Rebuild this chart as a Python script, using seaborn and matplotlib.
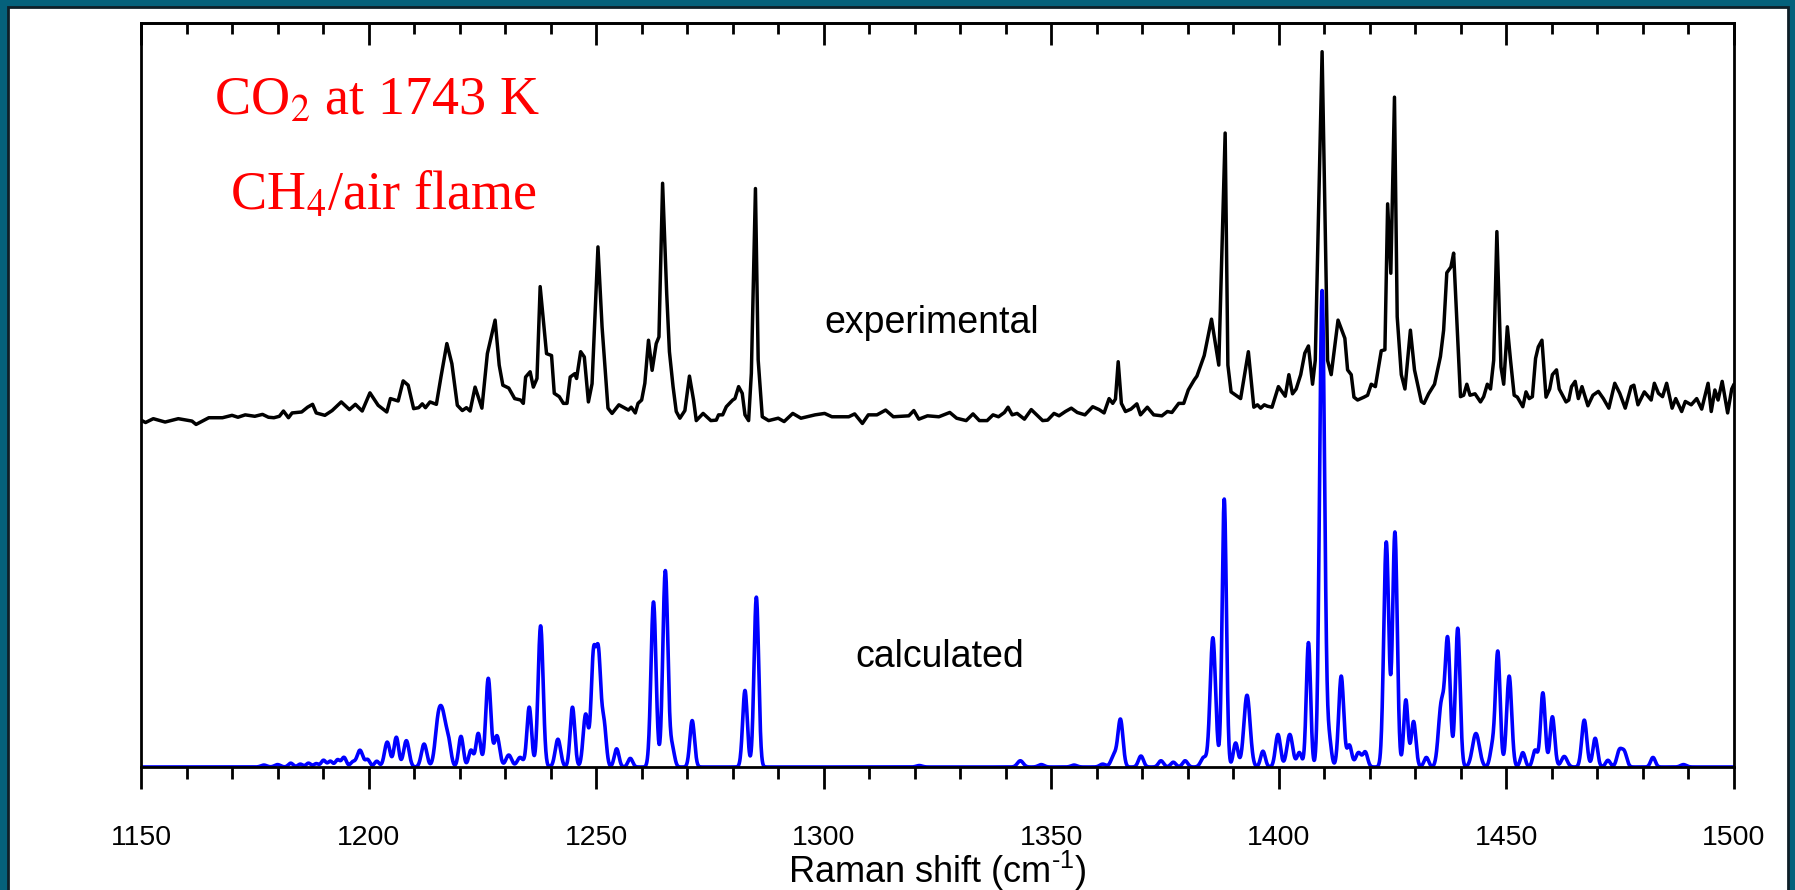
import numpy as np
import matplotlib
matplotlib.use("Agg")
import matplotlib.pyplot as plt
from matplotlib.patches import Rectangle
from matplotlib.ticker import MultipleLocator
import seaborn as sns

# experimental trace (vertices, offset included)
exp_shift = [
    1150.0, 1151.0, 1152.7, 1155.3, 1158.2, 1161.2, 1162.1, 1164.9, 1167.9, 1170.0,
    1171.3, 1172.9, 1175.0, 1176.7, 1178.0, 1179.2, 1180.4, 1181.3, 1182.4, 1183.2,
    1185.3, 1186.6, 1187.7, 1188.5, 1190.4, 1192.0, 1194.0, 1195.8, 1197.1, 1198.6,
    1200.3, 1202.1, 1204.0, 1204.8, 1206.5, 1207.6, 1208.7, 1209.9, 1211.0, 1211.8,
    1212.5, 1213.5, 1214.9, 1215.9, 1217.2, 1218.3, 1219.5, 1220.6, 1221.5, 1222.3,
    1223.4, 1224.9, 1226.1, 1227.8, 1228.7, 1229.5, 1230.8, 1232.1, 1233.4, 1234.0,
    1234.5, 1235.5, 1236.2, 1237.0, 1237.7, 1239.1, 1240.2, 1240.8, 1241.9, 1242.8,
    1243.6, 1244.3, 1245.3, 1245.7, 1246.6, 1247.4, 1248.3, 1249.1, 1250.4, 1251.3,
    1252.6, 1253.5, 1255.0, 1257.1, 1257.7, 1258.6, 1259.2, 1260.0, 1260.7, 1261.5,
    1262.3, 1263.2, 1263.8, 1264.6, 1265.5, 1266.1, 1266.9, 1267.6, 1268.4, 1269.5,
    1270.5, 1271.4, 1272.0, 1273.5, 1275.2, 1276.4, 1276.9, 1277.8, 1278.6, 1280.0,
    1280.5, 1281.3, 1282.1, 1282.7, 1283.5, 1284.1, 1285.0, 1285.6, 1286.5, 1287.9,
    1290.0, 1291.3, 1293.2, 1295.0, 1298.1, 1300.2, 1301.8, 1305.5, 1306.8, 1308.5,
    1309.8, 1311.7, 1313.6, 1315.3, 1318.7, 1319.8, 1320.9, 1322.8, 1325.3, 1327.7,
    1329.2, 1331.3, 1332.8, 1334.2, 1335.9, 1337.2, 1338.4, 1339.7, 1340.5, 1341.4,
    1342.5, 1344.1, 1345.6, 1348.1, 1349.2, 1350.6, 1351.7, 1353.1, 1354.4, 1355.7,
    1357.4, 1359.1, 1360.5, 1361.6, 1362.7, 1363.5, 1364.1, 1364.7, 1365.4, 1366.3,
    1367.5, 1368.8, 1369.6, 1371.1, 1372.5, 1374.3, 1375.5, 1376.5, 1378.0, 1379.1,
    1380.1, 1381.4, 1382.0, 1383.6, 1385.2, 1386.8, 1388.2, 1388.8, 1389.5, 1391.6,
    1393.3, 1394.5, 1395.3, 1396.0, 1396.8, 1397.5, 1398.5, 1399.9, 1401.4, 1402.2,
    1403.0, 1403.8, 1404.8, 1405.7, 1406.5, 1407.4, 1408.0, 1409.5, 1410.7, 1411.5,
    1413.0, 1414.5, 1415.1, 1415.9, 1416.5, 1417.3, 1418.0, 1418.7, 1419.5, 1420.3,
    1421.2, 1421.8, 1422.5, 1423.3, 1423.9, 1424.6, 1425.4, 1426.0, 1426.9, 1427.7,
    1428.9, 1429.8, 1431.3, 1431.9, 1432.9, 1434.2, 1435.5, 1436.2, 1436.9, 1437.8,
    1438.4, 1439.0, 1439.9, 1440.6, 1441.3, 1442.0, 1443.1, 1444.3, 1445.0, 1445.8,
    1446.5, 1447.2, 1447.9, 1448.8, 1449.4, 1450.2, 1450.9, 1451.7, 1452.4, 1453.6,
    1454.3, 1455.0, 1455.7, 1456.4, 1457.0, 1457.8, 1458.7, 1459.5, 1460.1, 1461.0,
    1461.6, 1463.1, 1463.7, 1464.3, 1465.1, 1465.8, 1466.6, 1467.9, 1469.0, 1470.2,
    1471.3, 1472.5, 1473.8, 1474.9, 1476.1, 1477.4, 1478.0, 1478.9, 1480.3, 1481.8,
    1482.5, 1483.4, 1484.3, 1485.2, 1486.4, 1487.2, 1488.5, 1489.3, 1490.6, 1491.8,
    1492.9, 1494.3, 1495.0, 1495.8, 1496.5, 1497.4, 1498.6, 1499.5, 1500.0,
]
exp_intensity = [
    0.725, 0.720, 0.728, 0.721, 0.728, 0.723, 0.716, 0.730, 0.730, 0.735,
    0.731, 0.736, 0.733, 0.737, 0.731, 0.730, 0.733, 0.744, 0.730, 0.740,
    0.742, 0.752, 0.758, 0.740, 0.735, 0.745, 0.763, 0.747, 0.758, 0.744,
    0.782, 0.756, 0.742, 0.770, 0.765, 0.807, 0.798, 0.749, 0.751, 0.759,
    0.751, 0.763, 0.758, 0.815, 0.885, 0.843, 0.756, 0.745, 0.751, 0.744,
    0.794, 0.750, 0.864, 0.934, 0.840, 0.798, 0.792, 0.770, 0.767, 0.760,
    0.815, 0.826, 0.794, 0.812, 1.004, 0.864, 0.860, 0.781, 0.774, 0.760,
    0.760, 0.815, 0.822, 0.812, 0.868, 0.857, 0.763, 0.801, 1.087, 0.920,
    0.750, 0.739, 0.757, 0.746, 0.752, 0.740, 0.760, 0.767, 0.802, 0.892,
    0.829, 0.885, 0.899, 1.220, 0.990, 0.868, 0.795, 0.743, 0.729, 0.745,
    0.817, 0.767, 0.724, 0.739, 0.724, 0.725, 0.736, 0.736, 0.753, 0.767,
    0.770, 0.795, 0.781, 0.736, 0.724, 0.823, 1.209, 0.851, 0.732, 0.724,
    0.729, 0.722, 0.739, 0.729, 0.736, 0.739, 0.732, 0.732, 0.738, 0.718,
    0.736, 0.736, 0.746, 0.732, 0.734, 0.745, 0.727, 0.734, 0.732, 0.741,
    0.729, 0.724, 0.738, 0.724, 0.724, 0.736, 0.732, 0.741, 0.752, 0.736,
    0.739, 0.727, 0.747, 0.724, 0.725, 0.739, 0.734, 0.743, 0.750, 0.741,
    0.736, 0.753, 0.747, 0.740, 0.770, 0.760, 0.769, 0.847, 0.760, 0.743,
    0.748, 0.759, 0.736, 0.752, 0.736, 0.734, 0.743, 0.741, 0.760, 0.760,
    0.788, 0.809, 0.817, 0.860, 0.936, 0.840, 1.325, 0.840, 0.784, 0.770,
    0.868, 0.752, 0.757, 0.750, 0.757, 0.754, 0.752, 0.795, 0.775, 0.820,
    0.780, 0.790, 0.820, 0.865, 0.880, 0.800, 0.850, 1.495, 0.850, 0.820,
    0.934, 0.896, 0.830, 0.820, 0.773, 0.767, 0.770, 0.773, 0.777, 0.800,
    0.795, 0.830, 0.870, 0.872, 1.177, 1.032, 1.400, 0.941, 0.820, 0.790,
    0.913, 0.830, 0.764, 0.760, 0.780, 0.800, 0.858, 0.913, 1.033, 1.045,
    1.074, 0.955, 0.774, 0.777, 0.800, 0.777, 0.780, 0.763, 0.774, 0.800,
    0.790, 0.850, 1.119, 0.836, 0.800, 0.920, 0.850, 0.777, 0.773, 0.753,
    0.784, 0.770, 0.774, 0.854, 0.878, 0.892, 0.773, 0.790, 0.820, 0.830,
    0.790, 0.763, 0.767, 0.795, 0.806, 0.770, 0.795, 0.755, 0.777, 0.785,
    0.770, 0.750, 0.802, 0.781, 0.750, 0.795, 0.798, 0.757, 0.784, 0.767,
    0.802, 0.781, 0.774, 0.802, 0.750, 0.770, 0.743, 0.764, 0.757, 0.770,
    0.748, 0.802, 0.743, 0.788, 0.767, 0.806, 0.740, 0.790, 0.800,
]

# calculated spectrum: individual lines (position cm-1, peak height, FWHM cm-1)
calc_center = [
    1177.0, 1180.0, 1182.9, 1185.0, 1186.8, 1188.5, 1190.1, 1191.6, 1193.2, 1194.6,
    1196.5, 1198.1, 1199.8, 1201.8, 1204.1, 1206.1, 1208.3, 1212.2, 1215.3, 1216.4,
    1217.6, 1220.3, 1222.5, 1224.1, 1226.3, 1228.2, 1230.8, 1233.3, 1235.3, 1237.8,
    1241.6, 1244.8, 1247.7, 1249.4, 1250.5, 1251.7, 1254.5, 1257.5, 1262.6, 1265.2,
    1266.7, 1271.1, 1282.7, 1285.2, 1321.0, 1343.2, 1347.8, 1355.0, 1361.3, 1363.8,
    1365.2, 1369.7, 1374.1, 1376.8, 1379.4, 1383.5, 1385.5, 1388.0, 1390.5, 1393.0,
    1396.5, 1399.8, 1402.4, 1404.5, 1406.5, 1409.5, 1411.0, 1413.7, 1415.5, 1417.5,
    1419.0, 1423.6, 1425.5, 1427.9, 1429.6, 1432.4, 1435.7, 1437.1, 1439.3, 1443.3,
    1446.9, 1448.1, 1450.6, 1453.6, 1456.3, 1458.0, 1460.1, 1462.7, 1467.1, 1469.5,
    1472.3, 1474.8, 1475.9, 1482.2, 1488.9,
]
calc_height = [
    0.004, 0.005, 0.008, 0.006, 0.008, 0.007, 0.014, 0.012, 0.015, 0.020,
    0.010, 0.035, 0.015, 0.012, 0.052, 0.062, 0.055, 0.048, 0.090, 0.088,
    0.045, 0.064, 0.035, 0.070, 0.185, 0.065, 0.025, 0.020, 0.125, 0.295,
    0.058, 0.125, 0.110, 0.225, 0.225, 0.090, 0.038, 0.018, 0.345, 0.410,
    0.040, 0.097, 0.160, 0.355, 0.003, 0.013, 0.005, 0.004, 0.006, 0.025,
    0.098, 0.023, 0.013, 0.010, 0.013, 0.020, 0.270, 0.560, 0.050, 0.150,
    0.033, 0.068, 0.068, 0.030, 0.260, 0.995, 0.060, 0.190, 0.045, 0.030,
    0.030, 0.470, 0.490, 0.140, 0.095, 0.020, 0.130, 0.260, 0.290, 0.070,
    0.040, 0.240, 0.190, 0.030, 0.035, 0.155, 0.105, 0.022, 0.098, 0.060,
    0.014, 0.033, 0.030, 0.020, 0.005,
]
calc_fwhm = [
    1.5, 1.5, 1.2, 1.2, 1.2, 1.2, 1.2, 1.2, 1.2, 1.2,
    1.2, 1.5, 1.2, 1.2, 1.4, 1.2, 1.4, 1.4, 1.6, 1.6,
    1.3, 1.2, 1.2, 1.2, 1.3, 1.4, 1.5, 1.5, 1.2, 1.3,
    1.4, 1.2, 1.3, 1.2, 1.2, 1.2, 1.2, 1.2, 1.3, 1.3,
    1.2, 1.2, 1.2, 1.2, 1.5, 1.5, 1.5, 1.5, 1.5, 1.5,
    1.3, 1.3, 1.3, 1.3, 1.3, 1.5, 1.4, 1.1, 1.2, 1.6,
    1.2, 1.3, 1.5, 1.2, 1.1, 1.3, 1.2, 1.3, 1.2, 1.5,
    1.2, 1.3, 1.2, 1.1, 1.2, 1.2, 1.5, 1.3, 1.2, 1.8,
    1.2, 1.2, 1.3, 1.2, 1.2, 1.2, 1.2, 1.5, 1.3, 1.2,
    1.2, 1.3, 1.3, 1.2, 1.5,
]

x_ticks = [1150, 1200, 1250, 1300, 1350, 1400, 1450, 1500]

# sum of gaussian lines on a fine grid
grid = np.arange(1150, 1500.001, 0.05)
calc = np.zeros_like(grid)
for c, h, w in zip(calc_center, calc_height, calc_fwhm):
    calc += h * np.exp(-4 * np.log(2) * (grid - c) ** 2 / w ** 2)

sns.set_style("ticks")
plt.rcParams['font.family'] = ['Liberation Sans', 'DejaVu Sans']
plt.rcParams['text.color'] = 'black'
plt.rcParams['mathtext.fontset'] = 'custom'
plt.rcParams['mathtext.rm'] = 'Liberation Sans'
plt.rcParams['mathtext.it'] = 'Liberation Sans:italic'

fig = plt.figure(figsize=(17.95, 8.9), dpi=100, facecolor='#05617b')
# white page with dark edge inside the teal frame
fig.patches.append(Rectangle((8 / 1795, -0.05), 1780 / 1795, 883 / 890 + 0.05,
                             transform=fig.transFigure, facecolor='white',
                             edgecolor='#0e1f28', lw=2, zorder=-5))

ax = fig.add_axes([0.07855, 0.1382, 0.88747, 0.83596])
ax.set_zorder(2)
sns.lineplot(x=exp_shift, y=exp_intensity, color='black', lw=2.5,
             estimator=None, ax=ax)
sns.lineplot(x=grid, y=calc, color='#0000ff', lw=2.6, estimator=None, ax=ax)

ax.set_xlim(1150, 1500)
ax.set_ylim(0, 1.555)
ax.set_yticks([])
ax.set_ylabel('')
for s in ax.spines.values():
    s.set_color('black')
    s.set_linewidth(2.0)

ax.set_xticks(x_ticks)
ax.xaxis.set_minor_locator(MultipleLocator(10))
ax.tick_params(axis='x', which='major', direction='out', length=15.5, width=2.0,
               color='black', labelsize=20.5, labelcolor='black', pad=26)
ax.tick_params(axis='x', which='minor', direction='out', length=8.5, width=2.0,
               color='black')

top = ax.secondary_xaxis('top')
top.set_xticks(x_ticks)
top.xaxis.set_minor_locator(MultipleLocator(10))
top.tick_params(which='major', direction='in', length=16, width=2.0, color='black',
                labeltop=False, labelbottom=False)
top.tick_params(which='minor', direction='in', length=8, width=2.0, color='black')
top.spines['top'].set_linewidth(2.0)

ax.set_xlabel(r'Raman shift (cm$^{\text{-1}}$)', fontsize=26, labelpad=-1.5,
              color='black')

ax.text(1323.8, 0.907, 'experimental', ha='center', va='baseline', fontsize=27,
        color='black')
ax.text(1325.4, 0.209, 'calculated', ha='center', va='baseline', fontsize=27,
        color='black')
ax.text(1201.8, 1.3626, 'CO$_2$ at 1743 K', ha='center', va='baseline', fontsize=39,
        color='red', family='Liberation Serif', math_fontfamily='stix')
ax.text(1203.2, 1.164, 'CH$_4$/air flame', ha='center', va='baseline', fontsize=39,
        color='red', family='Liberation Serif', math_fontfamily='stix')

fig.savefig('out.png', dpi=100, facecolor=fig.get_facecolor())
